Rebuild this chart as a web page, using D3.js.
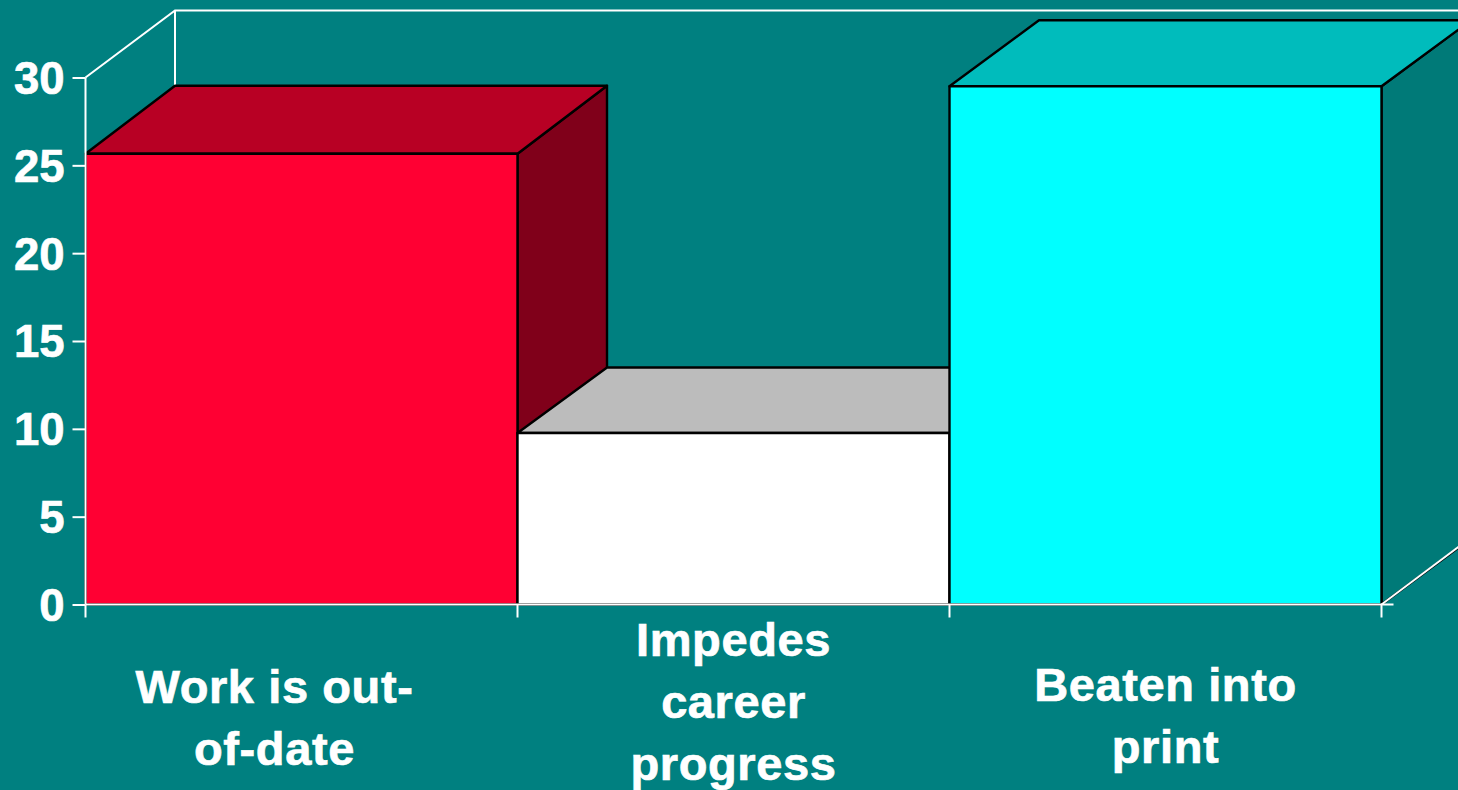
<!DOCTYPE html>
<html><head><meta charset="utf-8">
<script src="https://cdn.jsdelivr.net/npm/d3@7/dist/d3.min.js"></script>
<style>html,body{margin:0;padding:0;background:#008080;overflow:hidden}svg{display:block}text{font-family:"Liberation Sans",Arial,sans-serif;font-weight:700;fill:#fff;stroke:#fff;stroke-width:0.7px}</style>
</head><body><svg id="c" width="1458" height="790"></svg>
<script>
const categories = ["Work is out-of-date", "Impedes career progress", "Beaten into print"];
const values = [25.66, 9.76, 29.5];
const tickValues = [0, 5, 10, 15, 20, 25, 30];
const labelLines = [["Work is out-", "of-date"], ["Impedes", "career", "progress"], ["Beaten into", "print"]];
const frontColors = ["#ff0033", "#ffffff", "#00ffff"];
const topColors = ["#b80024", "#bcbcbc", "#00bcbc"];
const sideColors = ["#80001a", "#808080", "#007a78"];

const W = 1458, H = 790, DX = 89.5, DY = -67;
const barDY = [-68, -65.5, -66];
const svg = d3.select("#c");
const x = d3.scaleBand().domain(categories).range([85.5, 1381.5]).padding(0);
const y = d3.scaleLinear().domain([0, 30]).range([604.5, 77.5]);
const line = d3.line();
const xL = x.range()[0], xR = x.range()[1], y0 = y(0), yT = y(30);

svg.append("rect").attr("width", W).attr("height", H).attr("fill", "#008080");

// back and side walls
const wall = svg.append("g").attr("fill", "none").attr("stroke", "#fff").attr("stroke-width", 2);
wall.append("path").attr("d", line([[xL, yT], [xL + DX, yT + DY], [xR + DX, yT + DY]]));
wall.append("path").attr("d", line([[xL + DX, yT + DY], [xL + DX, y0 + DY]]));

// bars
const bars = svg.append("g").attr("stroke", "#000").attr("stroke-width", 2.4).attr("stroke-linejoin", "round");
categories.forEach((c, i) => {
  const x0 = x(c), x1 = x0 + x.bandwidth(), t = y(values[i]), dy = barDY[i];
  bars.append("path").attr("fill", sideColors[i])
    .attr("d", line([[x1, t], [x1 + DX, t + dy], [x1 + DX, y0 + dy], [x1, y0]]) + "Z");
  bars.append("path").attr("fill", topColors[i])
    .attr("d", line([[x0, t], [x0 + DX, t + dy], [x1 + DX, t + dy], [x1, t]]) + "Z");
  bars.append("rect").attr("fill", frontColors[i])
    .attr("x", x0).attr("y", t).attr("width", x1 - x0).attr("height", y0 - t);
});

// floor edge, on top of the bars
svg.append("path").attr("fill", "none").attr("stroke", "#fff").attr("stroke-width", 2)
  .attr("d", line([[xR, y0], [xR + DX, y0 + DY]]));

// axes
const yAxis = svg.append("g").attr("transform", `translate(${xL},0)`)
  .call(d3.axisLeft(y).tickValues(tickValues).tickSize(13).tickPadding(8));
yAxis.select(".domain").remove();
yAxis.append("path").attr("d", line([[0, yT], [0, y0]])).attr("stroke", "#fff").attr("fill", "none");
yAxis.selectAll("line,path").attr("stroke", "#fff").attr("stroke-width", 2);
yAxis.selectAll("text").attr("font-size", 45.5).attr("font-family", null).attr("fill", "#fff").attr("dy", "0.35em");

const xEdges = [...categories.map(c => x(c)), xR];
const axisG = svg.append("g").attr("stroke", "#fff").attr("stroke-width", 2);
axisG.append("path").attr("d", line([[xL, y0], [xR + 12, y0]]));
axisG.selectAll("line.t").data(xEdges).join("line").attr("class", "t")
  .attr("x1", d => d).attr("x2", d => d).attr("y1", y0).attr("y2", y0 + 13);

// category labels
const labelShift = [-27, 0, 0];
const labelBaseline = [703, 656, 701];
const lab = svg.append("g").attr("text-anchor", "middle").attr("font-size", 47).attr("letter-spacing", 0.6);
labelLines.forEach((ls, i) => {
  ls.forEach((s, j) => {
    lab.append("text").attr("x", x(categories[i]) + x.bandwidth() / 2 + labelShift[i])
      .attr("y", labelBaseline[i] + j * 62).text(s);
  });
});
</script></body></html>
